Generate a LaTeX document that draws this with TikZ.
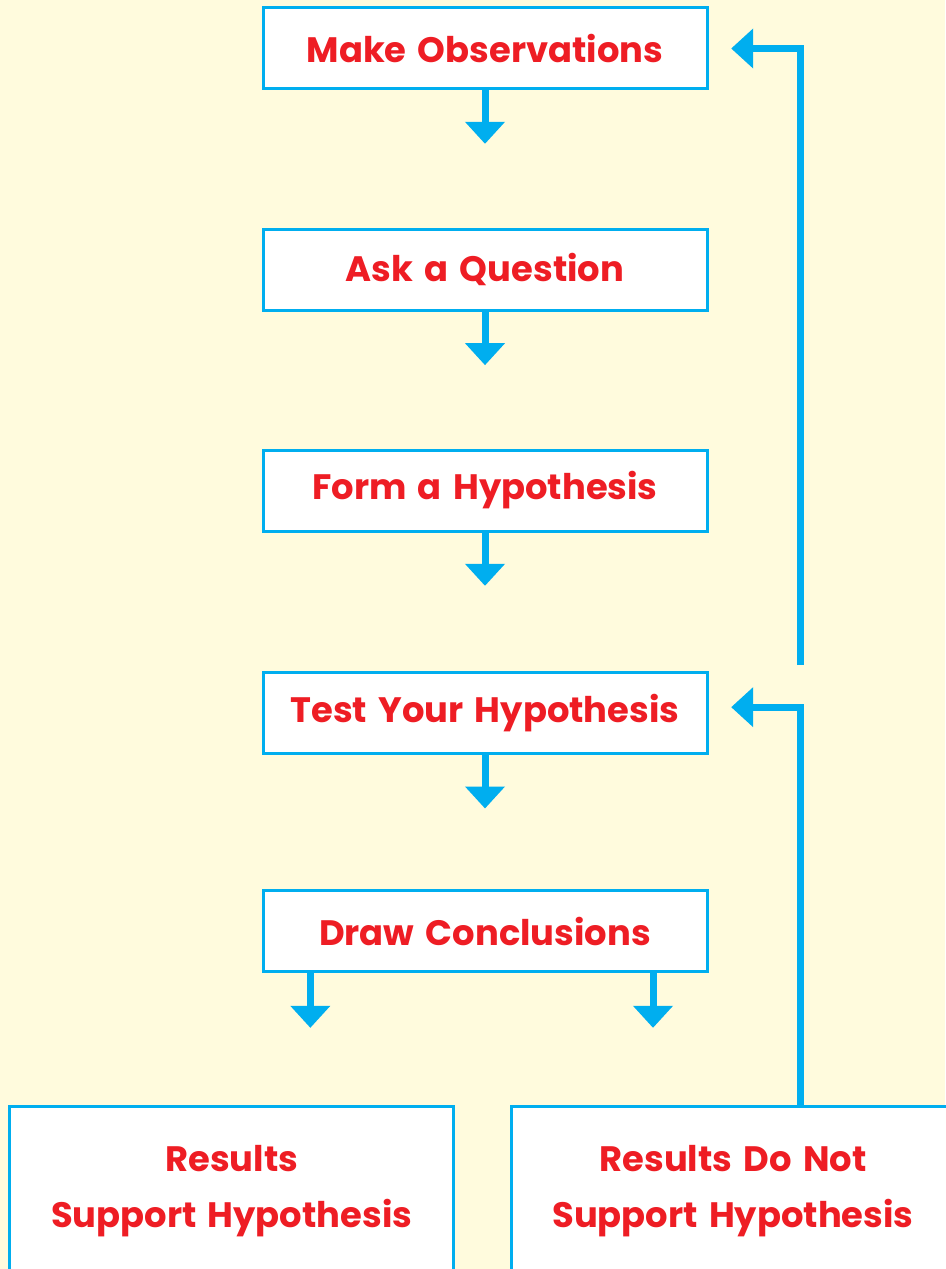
\documentclass[tikz,border=0pt]{standalone}
\usepackage{fontspec}
\setmainfont{Poppins}[WordSpace=1.5]
\usepackage{tikz}
\usetikzlibrary{arrows.meta,positioning}
\definecolor{bgcream}{HTML}{FFFBDD}
\definecolor{stepred}{HTML}{EE1D24}
\definecolor{flowcyan}{HTML}{00AEEF}

\begin{document}
\begin{tikzpicture}[
  x=0.75pt, y=-0.75pt,
  font=\fontsize{26.5pt}{42pt}\selectfont\bfseries,
  box/.style={rectangle, draw=flowcyan, line width=2.25pt, fill=white, text=stepred, minimum width=333pt, minimum height=60.75pt, align=center, inner sep=0pt},
  resbox/.style={box, minimum height=126pt},
  flow/.style={-{Triangle[length=16.5pt, width=29pt]}, line width=5.25pt, flowcyan, line join=miter}
]
\fill[bgcream] (0,0) rectangle (945,1269);
\useasboundingbox (0,0) rectangle (945,1269);

\node[box] (obs) at (485,48.5) {Make Observations};
\node[box, below=103pt of obs] (ask) {Ask a Question};
\node[box, below=102.5pt of ask] (form) {Form a Hypothesis};
\node[box, below=104pt of form] (test) {Test Your Hypothesis};
\node[box, below=100.5pt of test] (concl) {Draw Conclusions};
\node[resbox, below=99pt of concl, xshift=-190pt] (rsup) {Results\\Support Hypothesis};
\node[resbox, below=99pt of concl, xshift=186pt] (rnot) {Results Do Not\\Support Hypothesis};

% free ends of the down arrows
\coordinate[below=40pt of obs] (obsend);
\coordinate[below=40pt of ask] (askend);
\coordinate[below=40pt of form] (formend);
\coordinate[below=40pt of test] (testend);
\coordinate[below=41pt of concl, xshift=-131pt] (suppend);
\coordinate[below=41pt of concl, xshift=126pt] (notend);
\coordinate (loopx) at (800,665);

\draw[flow] (obs) -- (obsend);
\draw[flow] (ask) -- (askend);
\draw[flow] (form) -- (formend);
\draw[flow] (test) -- (testend);
\draw[flow] (suppend |- concl.south) -- (suppend);
\draw[flow] (notend |- concl.south) -- (notend);

% loops back up
\draw[flow, shorten >=17pt] (loopx) |- (obs.east);
\draw[flow, shorten >=17pt] (rnot.north -| loopx) |- ([yshift=4.5pt]test.east);

\end{tikzpicture}
\end{document}
